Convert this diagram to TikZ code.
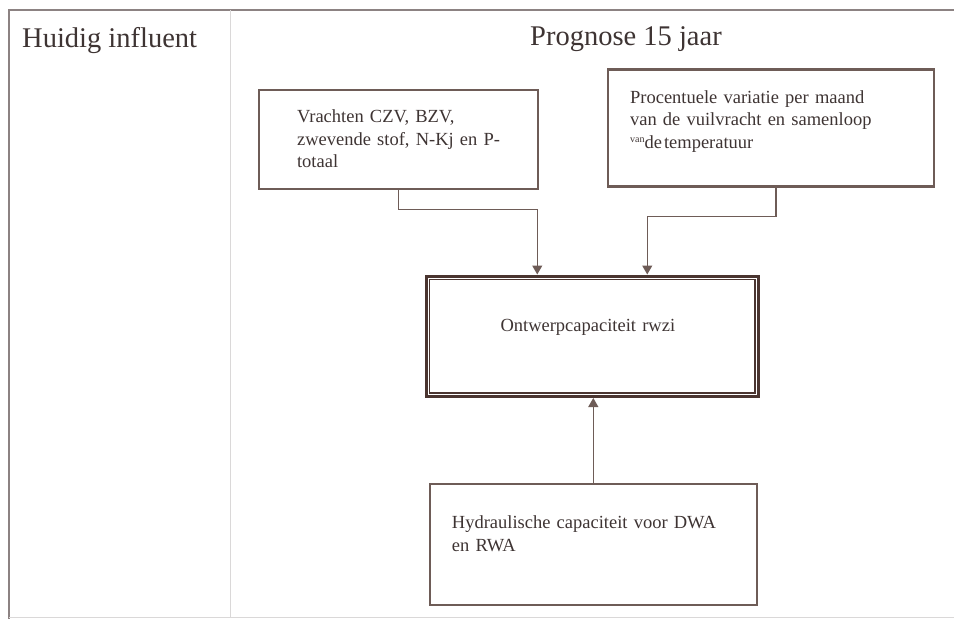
\documentclass[tikz,border=0pt]{standalone}
\usepackage{fontspec}
\setmainfont{Liberation Serif}
\usetikzlibrary{arrows.meta}
\definecolor{lijn}{HTML}{6E5C57}
\definecolor{donker}{HTML}{4A3530}
\definecolor{tekst}{HTML}{3E3433}
\definecolor{rand}{HTML}{8C8282}
\definecolor{scheiding}{HTML}{DAD8D8}
\tikzset{
	kader/.style={draw=lijn, line width=2.2pt, anchor=north west, inner xsep=#1, inner ysep=0pt,
		align=left, text=tekst, font=\fontsize{18.5}{22.5}\selectfont},
	verbinding/.style={draw=lijn, line width=1.1pt, -{Triangle[length=9pt,width=10pt]}},
	titel/.style={anchor=base west, inner sep=0pt, text=tekst, font=\fontsize{28.5}{32}\selectfont},
}
\begin{document}
\begin{tikzpicture}[x=1pt, y=-1pt]
		\useasboundingbox (0,0) rectangle (954,619);
		\draw[rand, line width=1.2pt] (954,10) -- (9,10) -- (9,619);
		\draw[scheiding, line width=0.8pt] (9,617) -- (954,617);
		\draw[scheiding, line width=1pt] (230,10) -- (230,617);

		\node[titel] (huidig) at (22,47) {Huidig influent};
		\node[titel] (prognose) at (530,45) {Prognose 15 jaar};

		\node[kader=38pt, text width=202.7pt, text height=32.7pt, text depth=66pt] (vracht) at (258,89)
			{\mbox{Vrachten CZV, BZV,}\\\mbox{zwevende stof, N-Kj en P-}\\\mbox{totaal}};
		\node[kader=22pt, text width=281.7pt, text height=33.7pt, text depth=83.3pt] (procent) at (607,68.3)
			{\mbox{Procentuele variatie per maand}\\\mbox{van de vuilvracht en samenloop}\\%
			\mbox{\raisebox{.7ex}{\fontsize{10}{10}\selectfont van}de\kern2pt temperatuur}};
		\node[kader=74.5pt, text width=183.5pt, text height=55.5pt, text depth=65pt, draw=donker, line width=3pt] (ontwerp) at (424.5,274.5)
			{\mbox{Ontwerpcapaciteit rwzi}};
		\draw[donker, line width=1.5pt] ([shift={(5,5)}]ontwerp.north west) rectangle ([shift={(-5,-5)}]ontwerp.south east);
		\node[kader=22pt, text width=282.8pt, text height=44.7pt, text depth=76pt, line width=1.8pt] (hydraul) at (429,483.3)
			{\mbox{Hydraulische capaciteit voor DWA}\\\mbox{en RWA}};

		\draw[verbinding] (vracht.south) -- ++(0,20) -| ([xshift=-55pt]ontwerp.north);
		\draw[verbinding] ([xshift=5pt]procent.south) -- ++(0,29) -| ([xshift=55pt]ontwerp.north);
		\draw[verbinding] (hydraul.north) -- (hydraul.north |- ontwerp.south);
	\end{tikzpicture}
\end{document}
